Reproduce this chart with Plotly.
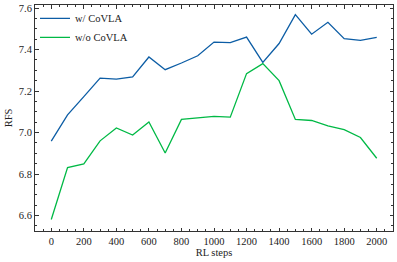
import plotly.graph_objects as go

steps = list(range(0, 2001, 100))
with_covla = [6.959, 7.085, 7.173, 7.262, 7.257, 7.268, 7.364, 7.303, 7.335, 7.370,
              7.436, 7.433, 7.460, 7.338, 7.429, 7.568, 7.474, 7.531, 7.452, 7.444, 7.458]
without_covla = [6.581, 6.831, 6.849, 6.960, 7.022, 6.988, 7.051, 6.901, 7.063, 7.069,
                 7.078, 7.074, 7.284, 7.332, 7.250, 7.063, 7.058, 7.032, 7.014, 6.976, 6.876]
y_ticks = [6.6, 6.8, 7.0, 7.2, 7.4, 7.6]
x_ticks = list(range(0, 2001, 200))

font = dict(family="Liberation Serif, DejaVu Serif, serif", size=10.5, color="#222")

fig = go.Figure()
fig.add_trace(go.Scatter(x=steps, y=with_covla, mode="lines", name="w/ CoVLA",
                         line=dict(color="#0C5DA5", width=1.3)))
fig.add_trace(go.Scatter(x=steps, y=without_covla, mode="lines", name="w/o CoVLA",
                         line=dict(color="#00B945", width=1.3)))

axis_common = dict(showline=True, linecolor="#333", linewidth=1, mirror="ticks",
                   ticks="inside", ticklen=3.5, tickwidth=0.8, tickcolor="#333",
                   showgrid=False, zeroline=False, tickfont=font, automargin=False)

fig.update_xaxes(range=[-100, 2100], tickvals=x_ticks,
                 title=dict(text="RL steps", font=font, standoff=2),
                 minor=dict(dtick=50, ticks="inside", ticklen=2, tickwidth=0.6, tickcolor="#333"),
                 **axis_common)
fig.update_yaxes(range=[6.5255, 7.6145], tickvals=y_ticks, tickformat=".1f",
                 title=dict(text="RFS", font=font, standoff=4),
                 minor=dict(dtick=0.05, tick0=6.6, ticks="inside", ticklen=2, tickwidth=0.6, tickcolor="#333"),
                 **axis_common)

fig.update_layout(
    width=397, height=262,
    margin=dict(l=35, r=4, t=5, b=31),
    paper_bgcolor="white", plot_bgcolor="white",
    font=font,
    legend=dict(x=0.0, y=1.005, xanchor="left", yanchor="top",
                bgcolor="rgba(0,0,0,0)", font=font, tracegroupgap=0,
                itemwidth=30),
)

fig.write_html("out.html", config={"displayModeBar": False},
               post_script="document.body.style.margin='0';")
